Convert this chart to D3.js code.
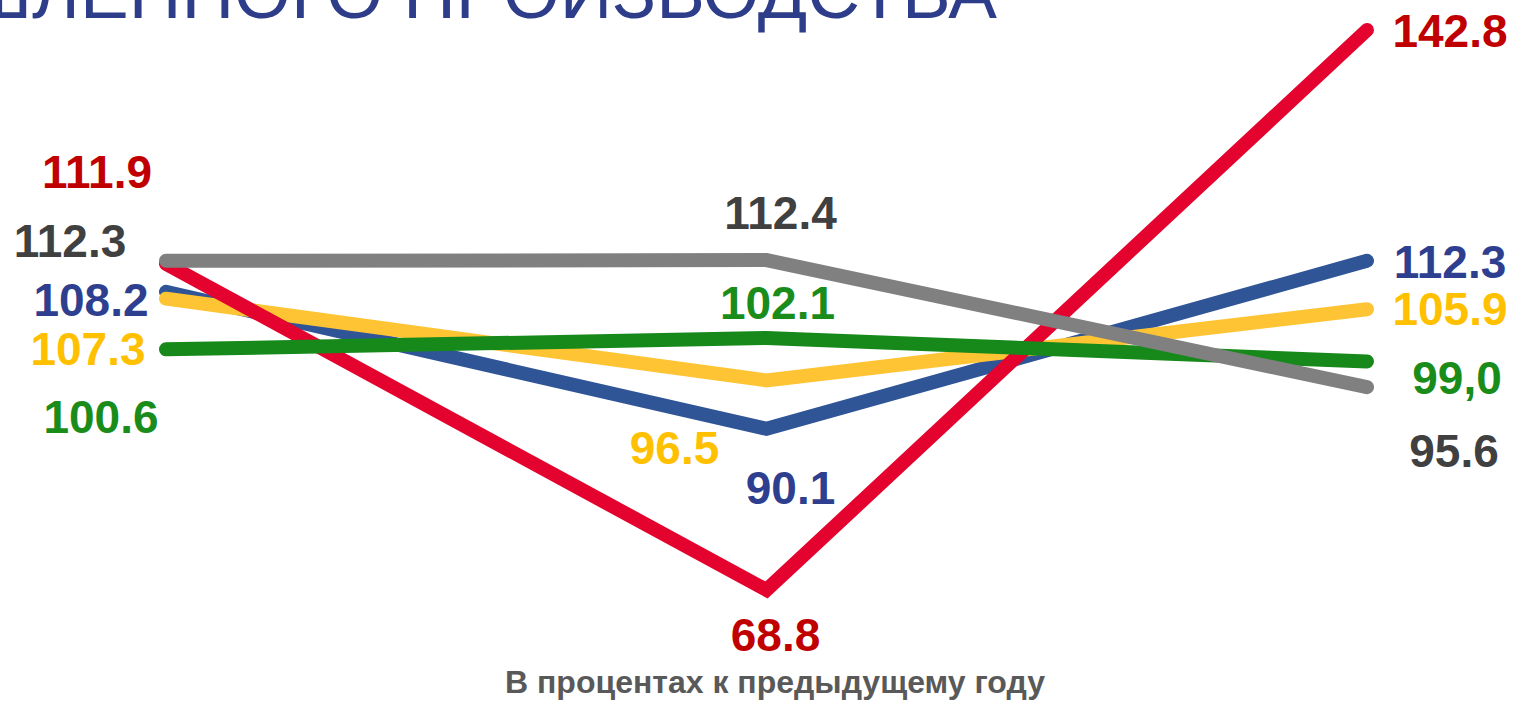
<!DOCTYPE html>
<html>
<head>
<meta charset="utf-8">
<script src="https://cdn.jsdelivr.net/npm/d3@7"></script>
<style>
  html, body { margin: 0; padding: 0; background: #fff; overflow: hidden; }
  svg { display: block; }
</style>
</head>
<body>
<svg id="chart" width="1514" height="701"></svg>
<script>
// three periods, no axis labels shown on the slide
var periods = ['p1', 'p2', 'p3'];

var seriesNames = ['blue', 'yellow', 'red', 'green', 'gray'];
var blueValues = [108.2, 90.1, 112.3];
var yellowValues = [107.3, 96.5, 105.9];
var redValues = [111.9, 68.8, 142.8];
var greenValues = [100.6, 102.1, 99.0];
var grayValues = [112.3, 112.4, 95.6];

var blueLabels = ['108.2', '90.1', '112.3'];
var yellowLabels = ['107.3', '96.5', '105.9'];
var redLabels = ['111.9', '68.8', '142.8'];
var greenLabels = ['100.6', '102.1', '99,0'];
var grayLabels = ['112.3', '112.4', '95.6'];

var titleText = 'ПРОМЫШЛЕННОГО ПРОИЗВОДСТВА';
var captionText = 'В процентах к предыдущему году';

// styles and label offsets (kept apart from the values)
var lineColors = {blue: '#2f5597', yellow: '#ffc433', red: '#e4032e', green: '#16891a', gray: '#808080'};
var labelColors = {blue: '#2f3f8f', yellow: '#ffc000', red: '#c00000', green: '#1a8c1a', gray: '#404040'};
var labelOffsets = {
  blue:   [[-75, 24], [24, 75], [83, 17]],
  yellow: [[-78, 66], [-92, 84], [83, 16]],
  red:    [[-69, -76], [9, 61], [83, 17]],
  green:  [[-65, 84], [11, -19], [90, 33]],
  gray:   [[-96, -4], [14, -31], [87, 80]]
};

var series = [
  {name: 'blue', values: blueValues, labels: blueLabels},
  {name: 'yellow', values: yellowValues, labels: yellowLabels},
  {name: 'red', values: redValues, labels: redLabels},
  {name: 'green', values: greenValues, labels: greenLabels},
  {name: 'gray', values: grayValues, labels: grayLabels}
];

var svg = d3.select('#chart');

var x = d3.scalePoint().domain(periods).range([166, 1367]);
var y = d3.scaleLinear().domain([68.8, 142.8]).range([590, 30]);

// title, clipped by the top edge of the slide as on the original
svg.append('text')
  .attr('x', 997)
  .attr('y', 18)
  .attr('text-anchor', 'end')
  .attr('font-family', 'Liberation Sans, Arial, sans-serif')
  .attr('font-size', 73)
  .attr('fill', '#2e3d8a')
  .text(titleText);

var line = d3.line()
  .x((d, i) => x(periods[i]))
  .y(d => y(d));

var lines = svg.append('g').attr('class', 'lines');
lines.selectAll('path')
  .data(series)
  .enter().append('path')
    .attr('d', d => line(d.values))
    .attr('fill', 'none')
    .attr('stroke', d => lineColors[d.name])
    .attr('stroke-width', 14)
    .attr('stroke-linecap', 'round')
    .attr('stroke-linejoin', 'miter');

var labels = svg.append('g').attr('class', 'labels')
  .attr('font-family', 'Liberation Sans, Arial, sans-serif')
  .attr('font-weight', 'bold')
  .attr('font-size', 46)
  .attr('text-anchor', 'middle');

series.forEach(function(s) {
  labels.selectAll('.lbl-' + s.name)
    .data(s.values)
    .enter().append('text')
      .attr('class', 'lbl-' + s.name)
      .attr('x', (d, i) => x(periods[i]) + labelOffsets[s.name][i][0])
      .attr('y', (d, i) => y(d) + labelOffsets[s.name][i][1])
      .attr('fill', labelColors[s.name])
      .text((d, i) => s.labels[i]);
});

svg.append('text')
  .attr('x', 775)
  .attr('y', 693)
  .attr('text-anchor', 'middle')
  .attr('font-family', 'Liberation Sans, Arial, sans-serif')
  .attr('font-weight', 'bold')
  .attr('font-size', 32)
  .attr('fill', '#595959')
  .text(captionText);
</script>
</body>
</html>
